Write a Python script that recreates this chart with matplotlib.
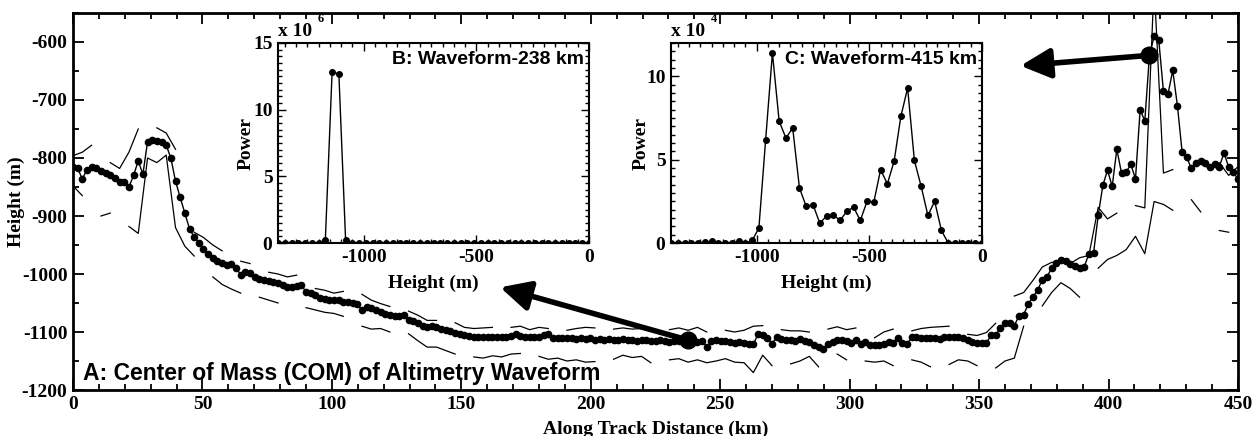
import numpy as np
import matplotlib
matplotlib.use('Agg')
from matplotlib import pyplot as plt
from matplotlib.ticker import MultipleLocator

nan = np.nan

# COM height along track (m), one value every ~1.8 km
com_height = [
    -816, -818, -836, -820, -816, -818, -823, -826, -829, -835,
    -842, -841, -850, -830, -805, -828, -772, -769, -770, -773,
    -778, -800, -840, -868, -895, -922, -936, -946, -957, -965,
    -973, -978, -981, -984, -983, -990, -1001, -997, -998, -1005,
    -1009, -1011, -1012, -1014, -1016, -1019, -1023, -1022, -1020, -1019,
    -1031, -1033, -1037, -1041, -1043, -1044, -1045, -1045, -1048, -1049,
    -1050, -1052, -1062, -1057, -1059, -1062, -1066, -1069, -1071, -1072,
    -1072, -1070, -1079, -1081, -1084, -1090, -1091, -1090, -1091, -1095,
    -1097, -1099, -1101, -1103, -1106, -1107, -1108, -1109, -1108, -1109,
    -1108, -1109, -1108, -1109, -1107, -1103, -1107, -1109, -1108, -1109,
    -1108, -1106, -1104, -1110, -1111, -1110, -1111, -1110, -1112, -1111,
    -1112, -1111, -1113, -1112, -1113, -1112, -1114, -1113, -1112, -1114,
    -1113, -1115, -1114, -1113, -1115, -1116, -1114, -1116, -1117, -1115,
    -1116, -1115, -1114, -1116, -1117, -1115, -1126, -1116, -1114, -1115,
    -1116, -1118, -1119, -1117, -1119, -1121, -1121, -1104, -1106, -1110,
    -1120, -1109, -1112, -1114, -1114, -1115, -1112, -1115, -1118, -1122,
    -1125, -1130, -1121, -1118, -1114, -1114, -1116, -1119, -1114, -1120,
    -1117, -1123, -1123, -1123, -1121, -1117, -1119, -1110, -1119, -1120,
    -1109, -1108, -1110, -1111, -1111, -1110, -1112, -1109, -1109, -1108,
    -1109, -1111, -1114, -1118, -1119, -1119, -1119, -1106, -1105, -1093,
    -1085, -1084, -1089, -1072, -1070, -1052, -1039, -1028, -1010, -1005,
    -990, -981, -975, -978, -983, -987, -990, -988, -965, -964,
    -899, -847, -821, -849, -785, -826, -824, -811, -836, -717,
    -736, -623, -590, -597, -685, -689, -649, -710, -789, -799,
    -818, -809, -806, -808, -815, -811, -815, -791, -816, -825,
    -836,
]

# thin upper / lower lines, one value every ~3.6 km (nan = gap)
upper_line = [
    -796, -790, -778, nan, -808, -818, -790, -750, nan, -748,
    -757, -785, nan, -928, -937, -950, -960, nan, -978, -982,
    nan, -997, -1000, -1005, -1002, nan, -1025, -1028, -1033, -1030,
    nan, -1035, -1045, -1051, -1056, nan, -1064, -1071, -1080, -1080,
    nan, -1084, -1092, -1094, -1093, -1092, nan, -1092, -1090, -1096,
    -1092, -1094, nan, -1097, -1094, -1092, -1093, nan, -1095, -1093,
    -1095, -1094, -1096, nan, -1096, -1093, -1097, -1092, -1100, nan,
    -1097, -1100, -1097, -1090, -1089, nan, -1096, -1098, -1098, -1100,
    nan, -1095, -1091, -1096, -1093, nan, -1110, -1100, -1095, nan,
    -1098, -1094, -1092, -1091, -1090, nan, -1104, -1106, -1101, -1085,
    nan, -1038, -1032, -1011, -988, -980, -978, -982, -972, -968,
    -885, -905, -895, nan, -882, -886, -500, -826, -820, nan,
    -815, -810, -818, -808, -830, -815,
]

lower_line = [
    -848, -865, nan, -900, -895, nan, -918, -930, -800, -808,
    -795, -920, -952, -969, nan, -1005, -1018, -1026, -1033, nan,
    -1040, -1045, -1050, nan, nan, -1058, -1062, -1066, -1068, -1073,
    nan, -1090, -1095, -1094, -1100, nan, -1103, -1115, -1126, -1126,
    -1132, -1138, nan, -1143, -1145, -1141, -1143, -1138, -1137, nan,
    -1142, -1147, -1145, -1150, -1148, -1152, -1151, nan, -1147, -1140,
    -1144, -1142, -1153, nan, -1148, -1146, -1152, -1148, -1153, -1150,
    -1146, -1152, -1153, -1170, -1140, -1158, nan, -1155, -1150, -1142,
    -1160, nan, -1138, -1148, nan, -1150, -1152, -1150, -1158, nan,
    -1148, -1152, -1160, nan, -1156, -1148, -1150, -1158, nan, -1162,
    -1150, -1145, -1090, nan, -1055, -1032, -1015, -1025, -1040, nan,
    -990, -975, -968, -958, -935, -965, -875, -880, -890, nan,
    -872, -893, nan, -925, -928, nan,
]

# waveforms, 30 m gates from -1380 m to 0 m
wave_238 = [  # x 10^6
    0, 0, 0, 0, 0, 0, 0, 0.2, 12.8, 12.7,
    0.2, 0, 0, 0, 0, 0, 0, 0, 0, 0,
    0, 0, 0, 0, 0, 0, 0, 0, 0, 0,
    0, 0, 0, 0, 0, 0, 0, 0, 0, 0,
    0, 0, 0, 0, 0, 0, 0,
]
wave_415 = [  # x 10^4
    0, 0, 0, 0, 0, 0.05, 0.1, 0, 0, 0,
    0.1, 0, 0.15, 0.9, 6.2, 11.4, 7.3, 6.3, 6.9, 3.3,
    2.2, 2.3, 1.2, 1.6, 1.7, 1.35, 1.9, 2.15, 1.35, 2.5,
    2.45, 4.4, 3.55, 4.9, 7.6, 9.3, 4.95, 3.4, 1.65, 2.5,
    0.75, 0, 0, 0, 0, 0, 0,
]

dist = np.arange(len(com_height)) * 1.8
line_dist = np.arange(len(upper_line)) * 3.6
gate_height = -1380 + 30 * np.arange(len(wave_238))

plt.rcParams['font.family'] = ['Liberation Serif', 'DejaVu Serif']
plt.rcParams['font.weight'] = 'bold'
plt.rcParams['axes.labelweight'] = 'bold'
plt.rcParams['axes.unicode_minus'] = False

fig = plt.figure(figsize=(12.56, 4.36), dpi=100)
W, H = 1256, 436

# main panel
ax = fig.add_axes([73 / W, 46 / H, 1165 / W, 377 / H])
ax.plot(line_dist, upper_line, 'k-', lw=0.9)
ax.plot(line_dist, lower_line, 'k-', lw=0.9)
ax.plot(dist, com_height, 'k-', lw=1.0, marker='o', ms=4.5)

# highlighted samples + arrows to the insets
for i, tip in [(132, (165, -1023)), (231, (366, -641))]:
    ax.plot(dist[i], com_height[i], 'o', color='k', ms=12, zorder=5)
    ax.annotate('', xy=tip, xytext=(dist[i], com_height[i]),
                arrowprops=dict(arrowstyle='-|>,head_length=0.9,head_width=0.45',
                                lw=4, color='k', shrinkA=0, shrinkB=0,
                                mutation_scale=20))

ax.set_xlim(0, 450)
ax.set_ylim(-1200, -550)
ax.xaxis.set_major_locator(MultipleLocator(50))
ax.xaxis.set_minor_locator(MultipleLocator(10))
ax.yaxis.set_major_locator(MultipleLocator(100))
ax.yaxis.set_minor_locator(MultipleLocator(50))
ax.tick_params(which='both', direction='in', top=True, right=True,
               labelsize=14, width=1.3, pad=4)
ax.tick_params(which='major', length=8)
ax.tick_params(which='minor', length=4)
for s in ax.spines.values():
    s.set_linewidth(2)
ax.set_xlabel('Along Track Distance (km)', fontsize=14)
ax.set_ylabel('Height (m)', fontsize=14)
ax.xaxis.set_label_coords(0.5, -0.082)
ax.yaxis.set_label_coords(-0.041, 0.5)
ax.text(0.0086, 0.044, 'A: Center of Mass (COM) of Altimetry Waveform',
        transform=ax.transAxes, ha='left', va='center', fontsize=16.5,
        family='Liberation Sans', weight='bold')


def inset(left, wave, ymax, title, expo, ylab_x):
    a = fig.add_axes([left / W, 193 / H, 311 / W, 200 / H])
    a.plot(gate_height, wave, 'k-', lw=1.0, marker='o', ms=4)
    a.set_xlim(-1380, 0)
    a.set_ylim(0, ymax)
    a.xaxis.set_major_locator(MultipleLocator(500))
    a.xaxis.set_minor_locator(MultipleLocator(50))
    a.yaxis.set_major_locator(MultipleLocator(5))
    a.yaxis.set_minor_locator(MultipleLocator(0.5))
    a.tick_params(which='both', direction='in', top=True, right=True,
                  labelsize=14, width=1.0, pad=4)
    a.tick_params(which='major', length=6)
    a.tick_params(which='minor', length=3)
    for s in a.spines.values():
        s.set_linewidth(1.5)
    a.set_xlabel('Height (m)', fontsize=14)
    a.set_ylabel('Power', fontsize=14)
    a.xaxis.set_label_coords(0.5, -0.16)
    a.yaxis.set_label_coords(ylab_x, 0.5)
    a.text(0.984, 0.915, title, transform=a.transAxes, ha='right', va='center',
           fontsize=14, family='Liberation Sans', weight='bold')
    a.text(0.0, 1.055, 'x 10', transform=a.transAxes, ha='left', va='center',
           fontsize=14)
    a.text(0.128, 1.12, expo, transform=a.transAxes, ha='left', va='center',
           fontsize=9)
    return a


inset(278, wave_238, 15, 'B: Waveform-238 km', '6', -0.074)
inset(671, wave_415, 12, 'C: Waveform-415 km', '4', -0.068)

fig.savefig('out.png', dpi=100)
